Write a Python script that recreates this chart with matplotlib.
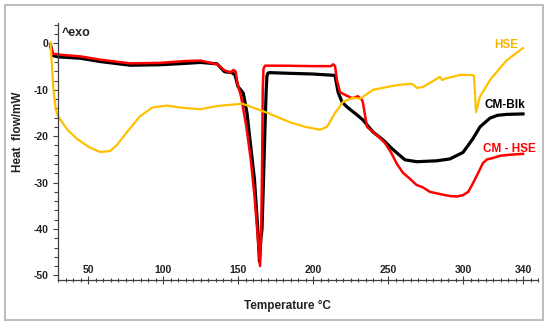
import matplotlib
matplotlib.use("Agg")
import matplotlib.pyplot as plt
from matplotlib.ticker import FixedLocator, MultipleLocator
from matplotlib.patches import Rectangle
import matplotlib.transforms as mtransforms

plt.rcParams['font.family'] = ['Liberation Sans', 'DejaVu Sans']
plt.rcParams['axes.unicode_minus'] = False

# ---- data ----
blk_T = [25, 26.5, 30, 45, 58, 78, 98, 115, 125, 136, 141, 146, 148, 150, 153.5, 156, 158,
         161, 163.2, 164.3, 165.3, 166, 167, 168, 168.8, 169.3, 170, 171, 180, 190, 200, 210,
         214.7, 216.7, 219.3, 222.7, 229.3, 233.3, 240, 246.7, 252.7, 261.3, 269.3, 282.7,
         291.3, 300, 306.7, 311.3, 318, 323, 329, 340]
blk_H = [-0.3, -2.6, -2.9, -3.2, -3.9, -4.7, -4.6, -4.3, -4.1, -4.4, -6.1, -6.3, -6.8, -9.3,
         -10.7, -15, -20.8, -29.4, -40.2, -47, -42, -40, -29.4, -18, -10, -7, -6.4, -6.3,
         -6.4, -6.5, -6.6, -6.8, -6.9, -10.5, -12.6, -13.7, -15.4, -16.5, -19.1, -20.8,
         -22.7, -25.1, -25.5, -25.3, -24.9, -23.5, -20.5, -18, -16.1, -15.5, -15.3, -15.2]

red_T = [25, 26.5, 30, 45, 58, 78, 98, 115, 125, 136, 141, 145, 147, 148.5, 149.5, 152, 155.5,
         158.5, 161, 163, 164.7, 165.5, 166.1, 166.5, 167, 168, 180, 200, 212, 213.5, 214.7,
         216, 218, 222, 226, 230, 232.7, 233.3, 236, 240, 244.7, 248, 252, 256, 260, 264,
         269, 273, 278, 285, 291.3, 296, 300, 303.5, 306.7, 310, 313.3, 316, 320, 325,
         331.3, 340]
red_H = [-0.3, -2.2, -2.4, -2.8, -3.5, -4.3, -4.2, -3.8, -3.7, -4.5, -5.8, -6.3, -5.7, -6.1,
         -8.5, -11.4, -17.8, -25, -33, -41, -48, -40, -25, -10, -5.5, -4.8, -4.8, -4.9,
         -4.9, -4.5, -4.9, -8, -10.5, -11.2, -11.8, -11.4, -12.2, -12.8, -18, -19.1, -20.4,
         -21.5, -23.5, -26, -27.9, -29, -30.5, -31, -32, -32.5, -32.9, -33, -32.7, -32,
         -30.1, -28, -25.8, -25, -24.7, -24.2, -24, -23.8]

hse_T = [25, 26, 27, 28.5, 30, 36, 42.7, 51, 58, 64.7, 69, 76, 84.7, 93, 102.7, 111, 124.7,
         136, 153, 169, 184.7, 195, 204.7, 209.3, 214.7, 220, 226.7, 231.3, 233.3, 240,
         249.3, 258, 266, 269.3, 273.3, 278, 284.7, 286, 288, 298, 306, 307.3, 308.7,
         311.3, 318, 324.7, 329.3, 340]
hse_H = [0.2, -5, -10, -14.2, -15.7, -18.5, -20.6, -22.4, -23.4, -23.2, -22, -19.1, -15.7,
         -13.8, -13.4, -13.8, -14.2, -13.5, -13.0, -14.9, -17, -18, -18.6, -18, -15, -12.6,
         -11.7, -11.9, -11.5, -10, -9.4, -8.9, -8.7, -9.6, -9.4, -8.5, -7.2, -7.9, -7.6,
         -6.8, -6.8, -7, -14.8, -11.5, -7.9, -5.3, -3.6, -1]

x_ticks = [50, 100, 150, 200, 250, 300, 340]
y_ticks = [0, -10, -20, -30, -40, -50]

# ---- figure ----
W, H = 550, 328
fig = plt.figure(figsize=(W / 100, H / 100), dpi=100)
fig.patches.append(Rectangle((5 / W, 8 / H), 538 / W, 315 / H, transform=fig.transFigure,
                             fill=False, edgecolor='#bdbdbd', linewidth=1.5))

ax = fig.add_axes([58 / W, 48 / H, 480 / W, 257 / H])
ax.set_xlim(30, 350)
ax.set_ylim(-51.0, 4.4)

ax.plot(blk_T, blk_H, color='black', lw=2.3, clip_on=False, solid_joinstyle='round')
ax.plot(red_T, red_H, color='#ff0000', lw=1.8, clip_on=False, solid_joinstyle='round')
ax.plot(hse_T, hse_H, color='#ffc000', lw=1.6, clip_on=False, solid_joinstyle='round')

for s in ['top', 'right']:
    ax.spines[s].set_visible(False)
for s in ['left', 'bottom']:
    ax.spines[s].set_color('#404040')
    ax.spines[s].set_linewidth(0.9)

tick_font = dict(fontsize=7.5, fontweight='bold', color='#222222')
ax.yaxis.set_major_locator(FixedLocator(y_ticks))
ax.yaxis.set_minor_locator(MultipleLocator(2))
ax.set_yticklabels([str(v) for v in y_ticks], **tick_font)
ax.tick_params(axis='y', which='both', direction='out', color='#404040', width=0.8)
ax.tick_params(axis='y', which='major', length=3.5, pad=3.5)
ax.tick_params(axis='y', which='minor', length=3.0)

ax.xaxis.set_major_locator(FixedLocator(x_ticks))
ax.xaxis.set_minor_locator(MultipleLocator(5))
ax.tick_params(axis='x', which='both', direction='inout', color='#404040', width=0.8,
               labelbottom=False)
ax.tick_params(axis='x', which='major', length=6)
ax.tick_params(axis='x', which='minor', length=3.5)
trans = mtransforms.blended_transform_factory(ax.transData, ax.transAxes)
for t in x_ticks:
    ax.text(t, 0.04, str(t), transform=trans, ha='center', va='center', **tick_font)

ax.text(32.5, 2.3, '^exo', fontsize=9, fontweight='bold', color='#222222', va='center')
ax.text(329, -0.3, 'HSE', fontsize=8.5, fontweight='bold', color='#f5b400',
        ha='center', va='center')
ax.text(328, -13.2, 'CM-Blk', fontsize=8.5, fontweight='bold', color='black',
        ha='center', va='center')
ax.text(331, -22.7, 'CM - HSE', fontsize=8.5, fontweight='bold', color='#ff0000',
        ha='center', va='center')

fig.text(287 / W, 1 - 306 / H, 'Temperature °C', fontsize=8.5, fontweight='bold',
         ha='center', va='center', color='#222222')
fig.text(18.5 / W, 1 - 132 / H, 'Heat  flow/mW', fontsize=8.5, fontweight='bold',
         ha='center', va='center', rotation=90, color='#222222')

fig.savefig('out.png', dpi=100)
